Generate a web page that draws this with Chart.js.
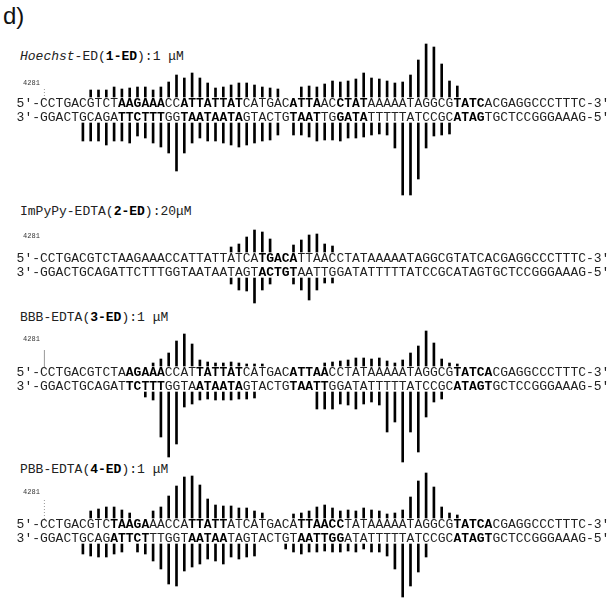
<!DOCTYPE html>
<html>
<head>
<meta charset="utf-8">
<script src="https://cdn.jsdelivr.net/npm/chart.js@4.4.0/dist/chart.umd.min.js"></script>
<style>
  body { margin: 0; background: #fff; width: 607px; height: 606px; position: relative; overflow: hidden; }
  .panel { position: absolute; left: 0; width: 607px; }
  .title { position: absolute; left: 20px; font: 13px/16px "Liberation Mono", monospace; color: #222; white-space: pre; }
  .title b { color: #000; }
  #lbl { position: absolute; left: 3px; top: 2px; font: 24px "Liberation Sans", Arial, sans-serif; color: #111; }
</style>
</head>
<body>
<div id="lbl">d)</div>
<div class="title" style="top:49px"><i>Hoechst</i>-ED(<b>1-ED</b>):1 μM</div>
<div class="title" style="top:204px">ImPyPy-EDTA(<b>2-ED</b>):20μM</div>
<div class="title" style="top:310px">BBB-EDTA(<b>3-ED</b>):1 μM</div>
<div class="title" style="top:462px">PBB-EDTA(<b>4-ED</b>):1 μM</div>
<div class="panel" id="w1"><canvas id="c1"></canvas></div>
<div class="panel" id="w2"><canvas id="c2"></canvas></div>
<div class="panel" id="w3"><canvas id="c3"></canvas></div>
<div class="panel" id="w4"><canvas id="c4"></canvas></div>
<script>
// sequences (top 5'->3', bottom 3'->5')
const topSeq = "CCTGACGTCTAAGAAACCATTATTATCATGACATTAACCTATAAAAATAGGCGTATCACGAGGCCCTTTC";
const botSeq = "GGACTGCAGATTCTTTGGTAATAATAGTACTGTAATTGGATATTTTTATCCGCATAGTGCTCCGGGAAAG";
const positions = Array.from(topSeq, (_, i) => 4281 + i);

// cleavage bar heights, one per base (0 = no cut)
const p1Top = [
  0,0,0,0,0,0,7,7,7,10,
  8,9,10,10,7,10,15,22,19,24,
  19,14,9,10,12,14,14,12,10,9,
  8,0,0,10,11,10,13,16,15,16,
  18,24,19,18,16,14,15,22,37,53,
  50,33,16,11,0,0,0,0,0,0,
  0,0,0,0,0,0,0,0,0,0];
const p1Bot = [
  0,0,0,0,0,18,18,18,22,18,
  18,20,13,15,20,24,30,48,30,20,
  15,18,18,20,22,24,22,20,18,17,
  12,0,12,12,14,18,17,17,18,15,
  15,14,12,11,12,25,72,72,56,25,
  13,12,11,0,0,0,0,0,0,0,
  0,0,0,0,0,0,0,0,0,0];
const p2Top = [
  0,0,0,0,0,0,0,0,0,0,
  0,0,0,0,0,0,0,0,0,0,
  0,0,0,0,5,8,15,22,20,13,
  0,0,7,12,17,18,8,6,0,0,
  0,0,0,0,0,0,0,0,0,0,
  0,0,0,0,0,0,0,0,0,0,
  0,0,0,0,0,0,0,0,0,0];
const p2Bot = [
  0,0,0,0,0,0,0,0,0,0,
  0,0,0,0,0,0,0,0,0,0,
  0,0,0,0,6,12,13,25,12,6,
  0,0,6,12,22,12,5,5,0,0,
  0,0,0,0,0,0,0,0,0,0,
  0,0,0,0,0,0,0,0,0,0,
  0,0,0,0,0,0,0,0,0,0];
const p3Top = [
  0,0,0,0,0,0,0,0,0,0,
  0,0,0,0,3,7,13,25,32,22,
  6,4,3,3,4,3,2,2,2,0,
  0,0,0,0,0,0,3,4,5,6,
  8,8,7,8,5,3,6,13,20,35,
  23,7,3,2,0,0,0,0,0,0,
  0,0,0,0,0,0,0,0,0,0];
const p3Bot = [
  0,0,0,0,0,0,0,0,0,0,
  0,0,0,5,8,45,65,52,15,12,
  8,7,8,8,8,7,7,6,0,0,
  0,0,0,0,0,17,17,17,12,13,
  17,12,10,13,40,30,70,40,60,25,
  10,7,0,0,0,0,0,0,0,0,
  0,0,0,0,0,0,0,0,0,0];
const p4Top = [
  0,0,0,0,0,0,7,9,11,11,
  8,5,0,0,7,11,22,32,41,42,
  33,19,13,12,12,10,10,7,5,0,
  0,0,4,5,7,11,13,10,7,8,
  7,10,8,7,4,5,8,21,37,45,
  31,11,5,3,0,0,0,0,0,0,
  0,0,0,0,0,0,0,0,0,0];
const p4Bot = [
  0,0,0,0,0,10,12,13,13,10,
  8,0,8,10,17,25,40,42,27,23,
  20,15,17,20,13,15,13,12,0,0,
  0,5,8,10,8,8,7,8,8,7,
  8,5,8,8,12,25,53,42,28,13,
  0,0,0,0,0,0,0,0,0,0,
  0,0,0,0,0,0,0,0,0,0];

// bold (binding site) ranges, 1-based base numbers
const p1Bold = [[11,16],[19,26],[33,36],[39,42],[54,57]];
const p2Bold = [[29,33]];
const p3Bold = [[12,16],[21,26],[33,37],[54,58]];
const p4Bold = [[10,14],[20,24],[34,39],[54,58]];

const GAP = 13;           // distance from strand centre line to bar start
const FONT = '13px "Liberation Mono", monospace';

function drawStrand(ctx, xs, ys, seq, bold, pre, post, yv) {
  const y = ys.getPixelForValue(yv);
  const w = xs.getPixelForValue(1) - xs.getPixelForValue(0);
  const isBold = n => bold.some(r => n >= r[0] && n <= r[1]);
  for (let i = 0; i < seq.length; i++) {
    const b = isBold(i + 1);
    ctx.font = (b ? 'bold ' : '') + FONT;
    ctx.fillStyle = b ? '#000' : '#222';
    ctx.fillText(seq[i], xs.getPixelForValue(i), y);
  }
  ctx.font = FONT;
  ctx.fillStyle = '#222';
  for (let j = 0; j < pre.length; j++)
    ctx.fillText(pre[j], xs.getPixelForValue(0) - (pre.length - j) * w, y);
  for (let j = 0; j < post.length; j++)
    ctx.fillText(post[j], xs.getPixelForValue(seq.length - 1) + (j + 1) * w, y);
}

const seqPlugin = {
  id: 'seq',
  afterDatasetsDraw(chart, args, opts) {
    const ctx = chart.ctx, xs = chart.scales.x, ys = chart.scales.y;
    ctx.save();
    ctx.textAlign = 'center';
    ctx.textBaseline = 'alphabetic';
    drawStrand(ctx, xs, ys, topSeq, opts.bold, "5′-", "-3′", 3);
    drawStrand(ctx, xs, ys, botSeq, opts.bold, "3′-", "-5′", -11);
    // position marker
    const x0 = xs.getPixelForValue(0);
    ctx.font = '7px "Liberation Mono", monospace';
    ctx.fillStyle = '#333';
    ctx.textAlign = 'right';
    ctx.fillText(String(positions[0]), x0 - 4, ys.getPixelForValue(opts.labelY));
    if (opts.line) {
      ctx.strokeStyle = '#999';
      ctx.lineWidth = 1;
      if (opts.line === 'dotted') ctx.setLineDash([1, 2]);
      ctx.beginPath();
      ctx.moveTo(x0 + 0.5, ys.getPixelForValue(opts.lineFrom));
      ctx.lineTo(x0 + 0.5, ys.getPixelForValue(12));
      ctx.stroke();
    }
    ctx.restore();
  }
};

function makePanel(id, wrapId, mid, up, down, topH, botH, bold, marker) {
  const wrap = document.getElementById(wrapId);
  wrap.style.top = (mid - up) + 'px';
  wrap.style.height = (up + down) + 'px';
  new Chart(document.getElementById(id), {
    type: 'bar',
    data: {
      labels: positions,
      datasets: [
        { data: topH.map(h => h ? [GAP, GAP + h] : null), backgroundColor: '#000', barThickness: 2, grouped: false },
        { data: botH.map(h => h ? [-GAP, -GAP - h] : null), backgroundColor: '#000', barThickness: 2, grouped: false }
      ]
    },
    options: {
      responsive: true,
      maintainAspectRatio: false,
      animation: false,
      events: [],
      layout: { padding: { left: 40, right: 21, top: 0, bottom: 0 } },
      scales: {
        x: { type: 'category', display: false, offset: true },
        y: { display: false, min: -down, max: up }
      },
      plugins: {
        legend: { display: false },
        tooltip: { enabled: false },
        seq: Object.assign({ bold: bold }, marker)
      }
    },
    plugins: [seqPlugin]
  });
}

makePanel('c1', 'w1', 110, 70, 90, p1Top, p1Bot, p1Bold, { labelY: 25, line: 'dotted', lineFrom: 21 });
makePanel('c2', 'w2', 265, 40, 45, p2Top, p2Bot, p2Bold, { labelY: 27, line: null });
makePanel('c3', 'w3', 379, 55, 90, p3Top, p3Bot, p3Bold, { labelY: 38, line: 'solid', lineFrom: 29 });
makePanel('c4', 'w4', 531, 60, 75, p4Top, p4Bot, p4Bold, { labelY: 37, line: 'dotted', lineFrom: 31 });
</script>
</body>
</html>
